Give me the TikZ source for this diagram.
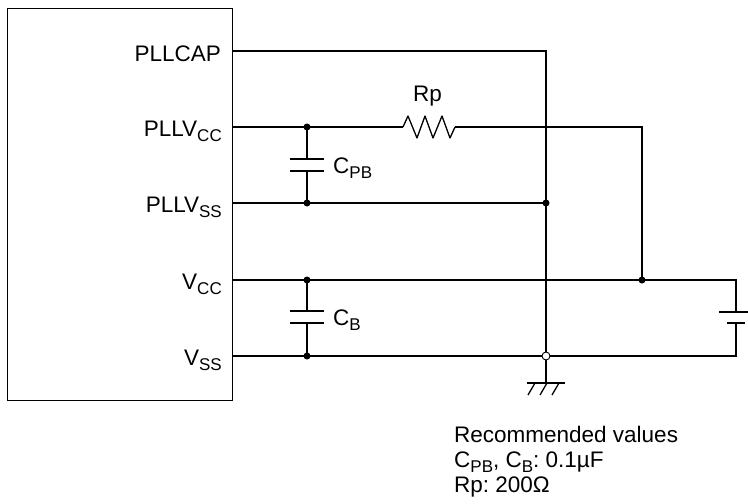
\documentclass[tikz,border=0pt]{standalone}
\usepackage{fontspec}
\setmainfont{Liberation Sans}
\frenchspacing
\newcommand{\sbs}[1]{\raisebox{-5pt}[0pt][0pt]{\fontsize{17}{17}\selectfont #1}}
\begin{document}
\begin{tikzpicture}[x=1pt,y=-1pt,
  wire/.style={draw, line width=1.3pt},
  lbl/.style={font=\fontsize{22.5}{25}\selectfont, inner sep=0pt},
  jdot/.style={circle, fill=black, draw=none, inner sep=0pt, minimum size=7pt},
  odot/.style={circle, draw, fill=white, inner sep=0pt, minimum size=8pt, line width=0.9pt},
  chipbox/.style={draw, line width=1.3pt, inner sep=0pt, anchor=north west}]
\useasboundingbox (0,0) rectangle (748,504);

% chip
\node[chipbox, minimum width=225pt, minimum height=392pt] (chip) at (7,8) {};

% pin labels
\node[lbl, anchor=base east] (lcap) at (221,61) {PLLCAP};
\node[lbl, anchor=base east] (lpvcc) at (222,136) {PLLV\sbs{CC}};
\node[lbl, anchor=base east] (lpvss) at (222,212) {PLLV\sbs{SS}};
\node[lbl, anchor=base east] (lvcc) at (222,289) {V\sbs{CC}};
\node[lbl, anchor=base east] (lvss) at (222,365) {V\sbs{SS}};

% coordinates
\coordinate (pcap) at (232,51);
\coordinate (capR) at (546,51);
\coordinate (ppvcc) at (232,127);
\coordinate (jpv) at (307,127);
\coordinate (rA) at (403,127);
\coordinate (rB) at (455,127);
\coordinate (pvccR) at (642,127);
\coordinate (jv2) at (642,280);
\coordinate (ppvss) at (232,203);
\coordinate (jpvss) at (307,203);
\coordinate (jg1) at (546,203);
\coordinate (pvcc) at (232,280);
\coordinate (jvcc) at (307,280);
\coordinate (vccR) at (736,280);
\coordinate (pvss) at (232,356);
\coordinate (jvss) at (307,356);
\coordinate (gnd) at (546,356);
\coordinate (vssR) at (736,356);
\coordinate (cpbT) at (307,159);
\coordinate (cpbB) at (307,171);
\coordinate (cbT) at (307,311);
\coordinate (cbB) at (307,323);
\coordinate (batT) at (736,312);
\coordinate (batB) at (736,323);
\coordinate (gbar) at (546,383);

% wires
\draw[wire] (pcap) -- (capR) -- (gnd);
\draw[wire] (ppvcc) -- (rA);
\draw[wire, line join=round] (rA)
  -- (408,116) -- (417,138) -- (425,116) -- (433,138) -- (442,116) -- (450,138) -- (rB);
\draw[wire] (rB) -- (pvccR) -- (jv2);
\draw[wire] (ppvss) -- (jg1);
\draw[wire] (pvcc) -- (vccR) -- (batT);
\draw[wire] (pvss) -- (vssR) -- (batB);

% capacitor CPB
\draw[wire] (jpv) -- (cpbT);
\draw[wire] (cpbB) -- (jpvss);
\draw[wire] ([xshift=-17pt]cpbT) -- ([xshift=17pt]cpbT);
\draw[wire] ([xshift=-17pt]cpbB) -- ([xshift=17pt]cpbB);
% capacitor CB
\draw[wire] (jvcc) -- (cbT);
\draw[wire] (cbB) -- (jvss);
\draw[wire] ([xshift=-17pt]cbT) -- ([xshift=17pt]cbT);
\draw[wire] ([xshift=-17pt]cbB) -- ([xshift=17pt]cbB);
% battery
\draw[wire] ([xshift=-17pt]batT) -- ([xshift=17pt]batT);
\draw[wire] ([xshift=-9pt]batB) -- ([xshift=9pt]batB);

% ground
\draw[wire] (gnd) -- (gbar);
\draw[wire] ([xshift=-19pt]gbar) -- ([xshift=19pt]gbar);
\draw[wire] ([xshift=-11pt]gbar) -- ([xshift=-18pt,yshift=-12pt]gbar);
\draw[wire] ([xshift=1pt]gbar) -- ([xshift=-6pt,yshift=-12pt]gbar);
\draw[wire] ([xshift=13pt]gbar) -- ([xshift=6pt,yshift=-12pt]gbar);

% junctions
\node[jdot] (d1) at (jpv) {};
\node[jdot] (d2) at (jpvss) {};
\node[jdot] (d3) at (jg1) {};
\node[jdot] (d4) at (jvcc) {};
\node[jdot] (d5) at (jv2) {};
\node[jdot] (d6) at (jvss) {};
\node[odot] (og) at (gnd) {};

% component labels
\node[lbl, anchor=base west] (lrp) at (413,101) {Rp};
\node[lbl, anchor=base west] (lcpb) at (333,173) {C\sbs{PB}};
\node[lbl, anchor=base west] (lcb) at (333,325) {C\sbs{B}};

% notes
\node[lbl, anchor=base west] (n1) at (454,442) {Recommended values};
\node[lbl, anchor=base west] (n2) at (454,467) {C\sbs{PB}, C\sbs{B}: 0.1µF};
\node[lbl, anchor=base west] (n3) at (454,492) {Rp: 200Ω};
\end{tikzpicture}
\end{document}
